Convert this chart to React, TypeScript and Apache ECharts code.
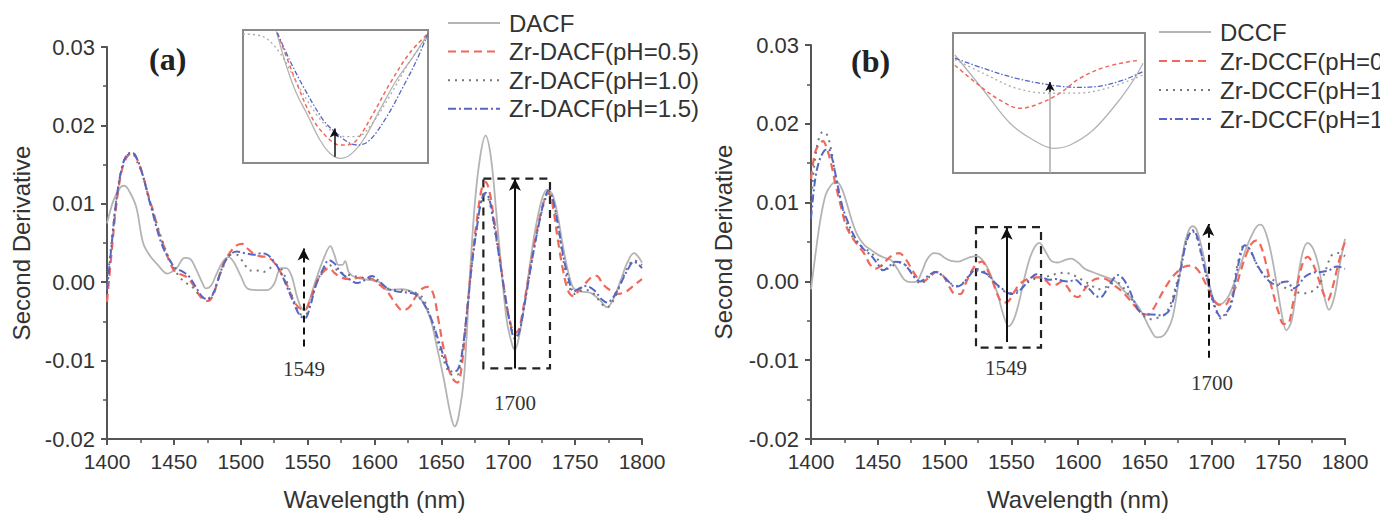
import React, { useEffect, useRef } from "react";
import * as echarts from "echarts";

// ---------- Panel (a) data: [wavelength nm, second derivative] ----------
const dacf = [
  [1400, 0.0075], [1405, 0.0105], [1410, 0.0121], [1413, 0.0123], [1417, 0.0115], [1422, 0.0095], [1427, 0.005],
  [1432, 0.0034], [1438, 0.0022], [1445, 0.0011], [1452, 0.0018], [1458, 0.0031], [1462, 0.003], [1467, 0.0015],
  [1471, 0.0], [1474, -0.0008], [1478, -0.0004], [1482, 0.0011], [1487, 0.0027], [1491, 0.0032], [1495, 0.0025],
  [1500, 0.0008], [1505, -0.0008], [1512, -0.001], [1520, -0.001], [1525, -0.0002], [1530, 0.0018], [1534, 0.0018],
  [1538, 0.0008], [1542, -0.0018], [1545, -0.0032], [1548, -0.0036], [1551, -0.0025], [1556, 0.0002], [1562, 0.003],
  [1567, 0.0046], [1570, 0.0035], [1573, 0.0022], [1576, 0.0022], [1578, 0.0027], [1581, 0.0012], [1586, 0.0006],
  [1595, 0.0003], [1604, 0.0], [1610, -0.001], [1620, -0.0009], [1630, -0.0014], [1636, -0.0025], [1642, -0.0048],
  [1647, -0.0085], [1652, -0.0125], [1657, -0.017], [1660, -0.0184], [1663, -0.017], [1667, -0.012], [1671, 0.0],
  [1675, 0.01], [1679, 0.016], [1683, 0.0187], [1687, 0.016], [1691, 0.009], [1695, 0.0015], [1699, -0.005],
  [1703, -0.008], [1705, -0.0086], [1708, -0.007], [1712, -0.003], [1716, 0.002], [1720, 0.0065], [1725, 0.0105],
  [1729, 0.0118], [1733, 0.0112], [1737, 0.0085], [1741, 0.0045], [1745, 0.0012], [1749, -0.0008], [1755, -0.0012],
  [1762, -0.0014], [1768, -0.0022], [1774, -0.0032], [1779, -0.002], [1784, 0.0002], [1789, 0.0025], [1794, 0.0037],
  [1797, 0.0033], [1800, 0.0025],
];
const zrDacf05 = [
  [1400, -0.0025], [1403, 0.003], [1407, 0.0099], [1411, 0.0142], [1415, 0.016], [1419, 0.0165], [1423, 0.0155],
  [1427, 0.0135], [1431, 0.011], [1435, 0.0088], [1439, 0.0062], [1443, 0.0044], [1447, 0.0025], [1451, 0.0013],
  [1455, 0.001], [1460, 0.0006], [1465, -0.0005], [1470, -0.0019], [1475, -0.0024], [1479, -0.0018], [1483, 0.0003],
  [1487, 0.0023], [1492, 0.0038], [1497, 0.0047], [1501, 0.0049], [1505, 0.0043], [1510, 0.0036], [1515, 0.0033],
  [1520, 0.0032], [1525, 0.0025], [1530, 0.0012], [1535, -0.0005], [1540, -0.0025], [1544, -0.0033], [1548, -0.0035],
  [1552, -0.0022], [1556, -0.0002], [1561, 0.0012], [1566, 0.0018], [1570, 0.0012], [1575, 0.0006], [1582, 0.0004],
  [1590, 0.0006], [1597, 0.0005], [1603, -0.0002], [1610, -0.0013], [1616, -0.0028], [1621, -0.0036], [1626, -0.0032],
  [1631, -0.0018], [1636, -0.0008], [1640, -0.0006], [1644, -0.0015], [1648, -0.005], [1653, -0.0095], [1658, -0.0122],
  [1662, -0.0128], [1665, -0.011], [1669, -0.004], [1673, 0.003], [1677, 0.0085], [1680, 0.0118], [1683, 0.0128],
  [1686, 0.0115], [1689, 0.0085], [1693, 0.004], [1697, -0.001], [1701, -0.0048], [1705, -0.0065], [1708, -0.006],
  [1711, -0.0035], [1715, 0.0005], [1719, 0.0045], [1723, 0.0078], [1727, 0.0105], [1730, 0.0114], [1733, 0.01],
  [1737, 0.0055], [1741, 0.0015], [1745, -0.0012], [1749, -0.0018], [1753, -0.001], [1758, -0.0001], [1762, 0.0006],
  [1766, 0.0008], [1771, -0.0003], [1776, -0.001], [1782, -0.0015], [1788, -0.0012], [1794, -0.0004], [1800, 0.0004],
];
const zrDacf10 = [
  [1400, -0.0005], [1403, 0.0045], [1407, 0.0105], [1411, 0.0145], [1415, 0.0162], [1419, 0.0163], [1423, 0.0152],
  [1427, 0.0135], [1431, 0.011], [1435, 0.0087], [1439, 0.0065], [1443, 0.0045], [1447, 0.0028], [1451, 0.0015],
  [1455, 0.0005], [1460, -0.0002], [1465, -0.0008], [1470, -0.0018], [1475, -0.0021], [1479, -0.0015], [1483, 0.0003],
  [1487, 0.002], [1492, 0.0035], [1497, 0.0035], [1502, 0.0025], [1507, 0.0015], [1512, 0.0015], [1517, 0.0013],
  [1522, 0.0018], [1527, 0.0022], [1531, 0.0015], [1535, -0.0002], [1540, -0.0025], [1544, -0.004], [1548, -0.0042],
  [1552, -0.0028], [1556, -0.0004], [1561, 0.0012], [1566, 0.0022], [1570, 0.0018], [1575, 0.0012], [1582, 0.0009],
  [1590, 0.0006], [1597, 0.0004], [1603, 0.0], [1610, -0.0008], [1617, -0.001], [1624, -0.0011], [1630, -0.0013],
  [1636, -0.002], [1642, -0.0045], [1648, -0.008], [1653, -0.0105], [1658, -0.0118], [1662, -0.0118], [1665, -0.0098],
  [1669, -0.004], [1673, 0.0025], [1677, 0.0075], [1680, 0.0103], [1683, 0.0112], [1686, 0.0102], [1689, 0.0075],
  [1693, 0.0035], [1697, -0.001], [1701, -0.0048], [1705, -0.0068], [1708, -0.0062], [1711, -0.0038], [1715, 0.0],
  [1719, 0.004], [1723, 0.0075], [1727, 0.0102], [1730, 0.0113], [1733, 0.0105], [1737, 0.0072], [1741, 0.003],
  [1745, -0.0002], [1749, -0.0015], [1753, -0.0012], [1758, -0.001], [1764, -0.0015], [1770, -0.0028], [1774, -0.0032],
  [1779, -0.0022], [1784, -0.0002], [1789, 0.0018], [1794, 0.0028], [1800, 0.0022],
];
const zrDacf15 = [
  [1400, -0.001], [1403, 0.004], [1407, 0.0105], [1411, 0.0145], [1415, 0.0163], [1419, 0.0165], [1423, 0.0155],
  [1427, 0.0135], [1431, 0.0108], [1435, 0.0083], [1439, 0.0058], [1443, 0.004], [1447, 0.0028], [1451, 0.0018],
  [1456, 0.0014], [1461, 0.0008], [1466, -0.0005], [1471, -0.0018], [1475, -0.0022], [1479, -0.0016], [1483, 0.0003],
  [1487, 0.0022], [1492, 0.0035], [1497, 0.0039], [1503, 0.0037], [1510, 0.0035], [1515, 0.0037], [1520, 0.0035],
  [1525, 0.0026], [1530, 0.0012], [1535, -0.0008], [1540, -0.0028], [1544, -0.0042], [1548, -0.0046], [1552, -0.003],
  [1556, -0.0005], [1561, 0.0015], [1566, 0.0028], [1570, 0.0024], [1575, 0.0012], [1582, 0.0003], [1587, -0.0001],
  [1592, 0.0002], [1598, 0.0008], [1603, 0.0002], [1610, -0.0008], [1617, -0.0012], [1624, -0.0013], [1630, -0.0015],
  [1636, -0.0025], [1642, -0.0045], [1648, -0.0075], [1653, -0.01], [1658, -0.0114], [1662, -0.0112], [1665, -0.0095],
  [1669, -0.004], [1673, 0.0025], [1677, 0.0075], [1680, 0.0105], [1683, 0.0114], [1686, 0.0105], [1689, 0.0078],
  [1693, 0.0035], [1697, -0.001], [1701, -0.005], [1705, -0.0072], [1708, -0.0065], [1711, -0.004], [1715, 0.0],
  [1719, 0.004], [1723, 0.0075], [1727, 0.0105], [1730, 0.0117], [1733, 0.0108], [1737, 0.0075], [1741, 0.0035],
  [1745, 0.0005], [1749, -0.0012], [1753, -0.0008], [1758, -0.0005], [1764, -0.001], [1770, -0.0022], [1774, -0.0026],
  [1779, -0.0018], [1784, -0.0002], [1789, 0.0015], [1794, 0.0026], [1800, 0.0018],
];

// ---------- Panel (b) data ----------
const dccf = [
  [1400, -0.001], [1403, 0.003], [1407, 0.0078], [1411, 0.011], [1415, 0.0122], [1419, 0.0127], [1423, 0.0118],
  [1427, 0.0098], [1431, 0.0075], [1435, 0.0058], [1440, 0.0046], [1445, 0.004], [1450, 0.0034], [1455, 0.003],
  [1460, 0.0027], [1465, 0.0015], [1470, 0.0002], [1475, -0.0001], [1479, 0.0], [1483, 0.0012], [1487, 0.0028],
  [1492, 0.0036], [1496, 0.0035], [1500, 0.003], [1505, 0.0026], [1510, 0.0025], [1515, 0.0028], [1520, 0.0031],
  [1524, 0.0032], [1528, 0.0028], [1532, 0.0018], [1536, 0.0002], [1540, -0.0017], [1544, -0.0042], [1548, -0.0057],
  [1552, -0.0048], [1556, -0.0025], [1560, 0.0005], [1564, 0.003], [1568, 0.0045], [1571, 0.0049], [1575, 0.004],
  [1580, 0.0026], [1585, 0.0024], [1590, 0.0027], [1595, 0.0029], [1600, 0.0024], [1605, 0.0016], [1612, 0.0011],
  [1620, 0.0006], [1628, 0.0], [1635, -0.0013], [1642, -0.0025], [1648, -0.004], [1654, -0.006], [1659, -0.0071],
  [1663, -0.007], [1667, -0.0062], [1671, -0.0045], [1675, -0.0005], [1679, 0.004], [1683, 0.0065], [1686, 0.007],
  [1689, 0.0065], [1693, 0.004], [1697, 0.0008], [1701, -0.002], [1705, -0.003], [1709, -0.0027], [1713, -0.0018],
  [1717, -0.0002], [1722, 0.0022], [1726, 0.0042], [1730, 0.0058], [1734, 0.007], [1737, 0.0072], [1741, 0.006],
  [1745, 0.0033], [1749, -0.0005], [1753, -0.0045], [1756, -0.0062], [1760, -0.005], [1764, -0.0005], [1768, 0.0035],
  [1772, 0.0049], [1776, 0.0042], [1780, 0.0021], [1784, -0.0015], [1788, -0.0036], [1792, -0.002], [1796, 0.002],
  [1800, 0.0054],
];
const zrDccf05 = [
  [1400, 0.013], [1403, 0.0163], [1406, 0.0174], [1409, 0.0178], [1412, 0.0168], [1415, 0.015], [1418, 0.0126],
  [1422, 0.0098], [1426, 0.0072], [1430, 0.0058], [1435, 0.0046], [1440, 0.0035], [1444, 0.0022], [1448, 0.0016],
  [1452, 0.0019], [1456, 0.0026], [1461, 0.0033], [1466, 0.0036], [1471, 0.0028], [1476, 0.0014], [1480, 0.0004],
  [1484, 0.0], [1489, 0.0006], [1494, 0.0012], [1499, 0.0007], [1504, -0.0008], [1508, -0.0016], [1512, -0.0016],
  [1516, -0.0002], [1520, 0.0012], [1524, 0.0022], [1528, 0.0025], [1532, 0.0015], [1536, 0.0], [1540, -0.0018],
  [1544, -0.0027], [1548, -0.0025], [1552, -0.0014], [1556, -0.0004], [1561, 0.0002], [1566, 0.0005], [1571, 0.0005],
  [1576, 0.0001], [1580, -0.0005], [1584, -0.0004], [1588, 0.0], [1592, -0.0007], [1596, -0.0017], [1600, -0.002],
  [1604, -0.0012], [1608, -0.0004], [1613, 0.0003], [1618, 0.0004], [1623, 0.0001], [1628, -0.0006], [1633, -0.0013],
  [1638, -0.0022], [1643, -0.0032], [1648, -0.0041], [1652, -0.0042], [1656, -0.0036], [1660, -0.0024], [1665, -0.0009],
  [1670, 0.0004], [1675, 0.0013], [1680, 0.0019], [1685, 0.002], [1689, 0.0016], [1693, 0.0006], [1697, -0.0008],
  [1701, -0.0022], [1705, -0.0029], [1710, -0.003], [1714, -0.002], [1718, -0.0008], [1722, 0.0014], [1726, 0.0034],
  [1730, 0.0048], [1734, 0.0052], [1738, 0.004], [1742, 0.0014], [1746, -0.0014], [1750, -0.0038], [1754, -0.0054],
  [1757, -0.0054], [1761, -0.0028], [1765, 0.0002], [1769, 0.0026], [1772, 0.0031], [1776, 0.0022], [1780, 0.0004],
  [1784, -0.0016], [1787, -0.0024], [1790, -0.0012], [1794, 0.0015], [1797, 0.0035], [1800, 0.005],
];
const zrDccf10 = [
  [1400, 0.01], [1403, 0.0155], [1406, 0.0182], [1409, 0.019], [1412, 0.0186], [1415, 0.0168], [1418, 0.0138],
  [1422, 0.0105], [1426, 0.0078], [1430, 0.006], [1435, 0.0048], [1440, 0.0042], [1445, 0.0036], [1450, 0.0028],
  [1454, 0.0018], [1458, 0.0016], [1463, 0.0022], [1468, 0.0024], [1473, 0.0016], [1478, 0.0005], [1482, -0.0003],
  [1487, 0.0003], [1493, 0.0012], [1498, 0.0008], [1503, 0.0], [1508, -0.0006], [1513, -0.0003], [1518, 0.0007],
  [1523, 0.0016], [1528, 0.0014], [1533, 0.0007], [1538, -0.0003], [1543, -0.001], [1548, -0.0015], [1552, -0.0014],
  [1556, -0.001], [1560, -0.0005], [1565, 0.0002], [1570, 0.0004], [1575, 0.0005], [1580, 0.0008], [1585, 0.001],
  [1590, 0.0011], [1595, 0.0009], [1600, 0.0005], [1605, 0.0], [1610, -0.0005], [1615, -0.001], [1620, -0.0008],
  [1625, -0.0003], [1630, -0.0002], [1635, -0.001], [1640, -0.0022], [1645, -0.0035], [1650, -0.0045], [1655, -0.0048],
  [1660, -0.0046], [1665, -0.0042], [1669, -0.003], [1673, -0.0008], [1677, 0.002], [1680, 0.0045], [1683, 0.006],
  [1686, 0.0063], [1689, 0.0055], [1692, 0.0036], [1696, 0.0008], [1700, -0.002], [1704, -0.004], [1707, -0.0047],
  [1711, -0.0042], [1715, -0.0022], [1718, 0.0008], [1721, 0.0033], [1724, 0.0045], [1728, 0.0042], [1732, 0.0028],
  [1736, 0.0015], [1740, 0.0008], [1745, 0.0003], [1750, -0.0002], [1755, -0.0008], [1760, -0.0011], [1765, -0.0014],
  [1770, -0.0015], [1775, -0.0013], [1780, -0.0006], [1785, 0.0012], [1790, 0.0033], [1795, 0.0036], [1800, 0.0032],
];
const zrDccf15 = [
  [1400, 0.008], [1403, 0.0128], [1406, 0.0152], [1410, 0.0166], [1413, 0.0168], [1416, 0.0155], [1419, 0.013],
  [1423, 0.0098], [1427, 0.0078], [1431, 0.0062], [1435, 0.005], [1440, 0.004], [1445, 0.0033], [1450, 0.0022],
  [1454, 0.0014], [1458, 0.0018], [1463, 0.0025], [1468, 0.0024], [1473, 0.0016], [1478, 0.0004], [1482, 0.0],
  [1487, 0.0006], [1493, 0.0012], [1498, 0.0008], [1503, 0.0], [1508, -0.0007], [1513, -0.0004], [1518, 0.0006],
  [1523, 0.0014], [1528, 0.0012], [1533, 0.0008], [1538, -0.0002], [1543, -0.0009], [1548, -0.0015], [1552, -0.0016],
  [1556, -0.0012], [1560, -0.0005], [1565, 0.0005], [1569, 0.0009], [1574, 0.0005], [1578, 0.0002], [1583, 0.0003],
  [1588, 0.0001], [1593, 0.0], [1598, 0.0002], [1603, -0.0005], [1608, -0.0009], [1613, -0.0018], [1617, -0.002],
  [1621, -0.0012], [1626, 0.0002], [1630, 0.0008], [1634, 0.0003], [1638, -0.0009], [1642, -0.0025], [1646, -0.0038],
  [1651, -0.0042], [1656, -0.0042], [1661, -0.0043], [1665, -0.0042], [1669, -0.0035], [1673, -0.0013], [1677, 0.0015],
  [1680, 0.0042], [1683, 0.0058], [1686, 0.0065], [1689, 0.0058], [1692, 0.0038], [1696, 0.0008], [1700, -0.0017],
  [1704, -0.0038], [1707, -0.0045], [1711, -0.004], [1715, -0.0028], [1719, 0.0012], [1722, 0.0035], [1725, 0.0046],
  [1729, 0.004], [1733, 0.0025], [1737, 0.0013], [1741, 0.0004], [1745, -0.0002], [1749, -0.0005], [1753, -0.0001],
  [1757, 0.0], [1761, -0.0009], [1765, -0.0005], [1770, 0.0006], [1776, 0.0011], [1782, 0.0012], [1788, 0.0014],
  [1794, 0.0019], [1800, 0.0016],
];

// ---------- Insets (zoomed view, normalised 0..100 units) ----------
const insetA_solid = [[18, 99], [23.6, 72.4], [29, 52], [34.4, 37.4], [41.6, 17.3], [47, 7.3], [52.4, 3.5], [57.8, 6], [65, 17.3], [74, 40], [83, 62.4], [92, 80], [100, 97.5]];
const insetA_dash = [[18.5, 98], [24, 78], [29, 60], [38, 32.3], [47, 17.3], [52.4, 13.5], [56, 13.5], [61.5, 17.3], [70.5, 37.4], [79.5, 60], [90, 82.5], [100, 97.5]];
const insetA_dot = [[0, 97], [10.8, 95], [20, 82.6], [30, 58], [40, 36], [48, 24], [56, 19.8], [62, 20], [70, 30], [80, 52], [90, 76], [100, 95]];
const insetA_dashdot = [[18.5, 98], [25, 78], [32.6, 57.4], [43.4, 32.3], [50.6, 22.3], [57.8, 14.8], [62.3, 13.5], [68.6, 17.3], [77.7, 34.8], [86.6, 57.4], [93.9, 77.4], [100, 97.5]];

const insetB_solid = [[1, 84.3], [15.8, 59.3], [29.7, 35.5], [41.8, 23.6], [52.3, 17.6], [61, 20], [73, 30.7], [85.3, 49.8], [94, 66.4], [99, 78.4]];
const insetB_dash = [[1, 77], [12.3, 64], [24.5, 52], [35, 46.2], [45.3, 49.8], [55.7, 57], [66, 67.6], [80, 76], [97.4, 80.7]];
const insetB_dot = [[1, 81], [15.8, 71.2], [33, 60.5], [50.5, 57], [64.4, 57], [80, 60.5], [99, 70]];
const insetB_dashdot = [[1, 82], [15.8, 74.8], [33, 67.6], [50.5, 62.9], [64.4, 61.2], [76.6, 62.1], [88.7, 66.4], [99, 72.4]];

const namesA = ["DACF", "Zr-DACF(pH=0.5)", "Zr-DACF(pH=1.0)", "Zr-DACF(pH=1.5)"];
const namesB = ["DCCF", "Zr-DCCF(pH=0.5)", "Zr-DCCF(pH=1.0)", "Zr-DCCF(pH=1.5)"];
const yTicks = { min: -0.02, max: 0.03, interval: 0.01 };
const xTicks = { min: 1400, max: 1800, interval: 50 };

const SANS = "Liberation Sans, Arial, sans-serif";
const SERIF = "Liberation Serif, Times New Roman, serif";
const AX = "#555";
const TXT = "#333";

const styles = [
  { color: "#b4b4b4", type: "solid", width: 1.8 },
  { color: "#f0685a", type: [8, 5], width: 2.2 },
  { color: "#777777", type: [2, 5], width: 2 },
  { color: "#5566c4", type: [8, 3, 2, 3], width: 2 },
];
const insetStyles = [
  { color: "#b4b4b4", type: "solid", width: 1.3 },
  { color: "#f0685a", type: [4, 3], width: 1.5 },
  { color: "#aaaaaa", type: [2, 3], width: 1.3 },
  { color: "#5566c4", type: [5, 2, 1.5, 2], width: 1.3 },
];

function App() {
  const ref = useRef<HTMLDivElement>(null);
  useEffect(() => {
    document.body.style.margin = "0";
    document.body.style.overflow = "hidden";
    const chart = echarts.init(ref.current!, null, { renderer: "svg" });

    const xAxisMain = (gridIndex: number) => ({
      type: "value", gridIndex, ...xTicks,
      axisLine: { show: true, onZero: false, lineStyle: { color: AX, width: 2 } },
      axisTick: { show: true, length: 6, lineStyle: { color: AX, width: 2 } },
      minorTick: { show: true, splitNumber: 2, length: 4, lineStyle: { color: AX, width: 1.5 } },
      splitLine: { show: false },
      axisLabel: { fontSize: 21, color: TXT, margin: 12, fontFamily: SANS, formatter: (v: number) => String(Math.round(v)) },
      name: "Wavelength (nm)", nameLocation: "middle", nameGap: 48,
      nameTextStyle: { fontSize: 24, color: TXT, fontFamily: SANS },
    });
    const yAxisMain = (gridIndex: number, gap: number) => ({
      type: "value", gridIndex, ...yTicks,
      axisLine: { show: true, onZero: false, lineStyle: { color: AX, width: 2 } },
      axisTick: { show: true, length: 6, lineStyle: { color: AX, width: 2 } },
      minorTick: { show: true, splitNumber: 2, length: 4, lineStyle: { color: AX, width: 1.5 } },
      splitLine: { show: false },
      axisLabel: {
        fontSize: 22, color: TXT, margin: 12, fontFamily: SANS,
        formatter: (v: number) => (Math.abs(v) < 1e-9 ? "0.00" : v.toFixed(2)),
      },
      name: "Second Derivative", nameLocation: "middle", nameGap: gap,
      nameTextStyle: { fontSize: 24, color: TXT, fontFamily: SANS },
    });
    const hiddenAxis = (gridIndex: number) => ({ type: "value", gridIndex, min: 0, max: 100, show: false });

    const mkLine = (name: string, data: number[][], i: number, idx: number, st: any[], extra: any = {}) => ({
      type: "line", name, data, xAxisIndex: idx, yAxisIndex: idx, symbol: "none", smooth: 0.35,
      lineStyle: { ...st[i] }, itemStyle: { color: st[i].color }, z: 3 + (i === 0 ? 0 : 1), silent: true, ...extra,
    });

    const label = (coord: number[], text: string) => ({
      coord, symbol: "circle", symbolSize: 1, itemStyle: { color: "rgba(0,0,0,0)" },
      label: { show: true, position: "inside", formatter: text, fontFamily: SERIF, fontSize: 21, color: TXT },
    });
    const arrow = (x: number, y0: number, y1: number, dashed: boolean, color = "#111", width = 2) => [
      { coord: [x, y0], lineStyle: { color, type: dashed ? [7, 5] : "solid", width } },
      { coord: [x, y1] },
    ];
    const areaStyle = { color: "rgba(0,0,0,0)", borderColor: "#222", borderWidth: 2.2, borderType: [8, 6] };

    const annotA = {
      markLine: {
        silent: true, symbol: ["none", "arrow"], symbolSize: [9, 12], label: { show: false },
        data: [arrow(1547, -0.0082, 0.0043, true), arrow(1705, -0.011, 0.0132, false)],
      },
      markArea: { silent: true, itemStyle: areaStyle, data: [[{ coord: [1681.4, 0.0132] }, { coord: [1731.2, -0.011] }]] },
      markPoint: { silent: true, data: [label([1547.3, -0.0111], "1549"), label([1705, -0.0154], "1700")] },
    };
    const annotB = {
      markLine: {
        silent: true, symbol: ["none", "arrow"], symbolSize: [9, 12], label: { show: false },
        data: [arrow(1546.6, -0.0077, 0.0068, false), arrow(1697.6, -0.0097, 0.0073, true)],
      },
      markArea: { silent: true, itemStyle: areaStyle, data: [[{ coord: [1523.6, 0.0069] }, { coord: [1572.3, -0.0084] }]] },
      markPoint: { silent: true, data: [label([1546, -0.011], "1549"), label([1700.4, -0.0129], "1700")] },
    };
    const annotInsetA = {
      markLine: {
        silent: true, symbol: ["none", "arrow"], symbolSize: [7, 9], label: { show: false },
        data: [arrow(49.4, 4.7, 26, false, "#111", 1.5)],
      },
    };
    const annotInsetB = {
      markLine: {
        silent: true, symbol: ["none", "none"], label: { show: false },
        data: [arrow(50.5, 0, 60, false, "#aaaaaa", 1.5)],
      },
    };
    const annotInsetB2 = {
      markLine: {
        silent: true, symbol: ["none", "arrow"], symbolSize: [7, 9], label: { show: false },
        data: [arrow(50.5, 58, 65, false, "#111", 1.5)],
      },
    };

    const legendBase = {
      orient: "vertical", itemWidth: 52, itemHeight: 14, padding: 0, selectedMode: false,
      itemStyle: { color: "rgba(0,0,0,0)", borderWidth: 0, opacity: 0 },
      textStyle: { fontSize: 24, color: TXT, fontFamily: SANS, lineHeight: 24, padding: [0, 0, 0, 4] },
    };

    chart.setOption({
      animation: false,
      backgroundColor: "#ffffff",
      title: [
        { text: "(a)", left: 144, top: 38, textStyle: { fontFamily: SERIF, fontWeight: "bold", fontSize: 32, color: "#222" } },
        { text: "(b)", left: 846, top: 40, textStyle: { fontFamily: SERIF, fontWeight: "bold", fontSize: 32, color: "#222" } },
      ],
      legend: [
        { ...legendBase, data: namesA, left: 447, top: 11, itemGap: 4.6 },
        { ...legendBase, data: namesB, left: 1158, top: 20, itemGap: 5 },
      ],
      grid: [
        { left: 107, top: 47, width: 535, height: 396 },
        { left: 811, top: 45, width: 534, height: 397 },
        { left: 243, top: 30, width: 185, height: 133, show: true, borderColor: "#8a8a8a", borderWidth: 2 },
        { left: 953, top: 33, width: 192, height: 140, show: true, borderColor: "#8a8a8a", borderWidth: 2 },
      ],
      xAxis: [xAxisMain(0), xAxisMain(1), hiddenAxis(2), hiddenAxis(3)],
      yAxis: [yAxisMain(0, 74), yAxisMain(1, 76), hiddenAxis(2), hiddenAxis(3)],
      series: [
        mkLine(namesA[0], dacf, 0, 0, styles, annotA),
        mkLine(namesA[1], zrDacf05, 1, 0, styles),
        mkLine(namesA[2], zrDacf10, 2, 0, styles),
        mkLine(namesA[3], zrDacf15, 3, 0, styles),
        mkLine(namesB[0], dccf, 0, 1, styles, annotB),
        mkLine(namesB[1], zrDccf05, 1, 1, styles),
        mkLine(namesB[2], zrDccf10, 2, 1, styles),
        mkLine(namesB[3], zrDccf15, 3, 1, styles),
        mkLine("insetA-0", insetA_solid, 0, 2, insetStyles, annotInsetA),
        mkLine("insetA-1", insetA_dash, 1, 2, insetStyles),
        mkLine("insetA-2", insetA_dot, 2, 2, insetStyles),
        mkLine("insetA-3", insetA_dashdot, 3, 2, insetStyles),
        mkLine("insetB-0", insetB_solid, 0, 3, insetStyles, annotInsetB),
        mkLine("insetB-1", insetB_dash, 1, 3, insetStyles),
        mkLine("insetB-2", insetB_dot, 2, 3, insetStyles),
        mkLine("insetB-3", insetB_dashdot, 3, 3, insetStyles, annotInsetB2),
      ],
    });
    return () => chart.dispose();
  }, []);
  return <div ref={ref} style={{ width: 1380, height: 516 }} />;
}

export default App;
